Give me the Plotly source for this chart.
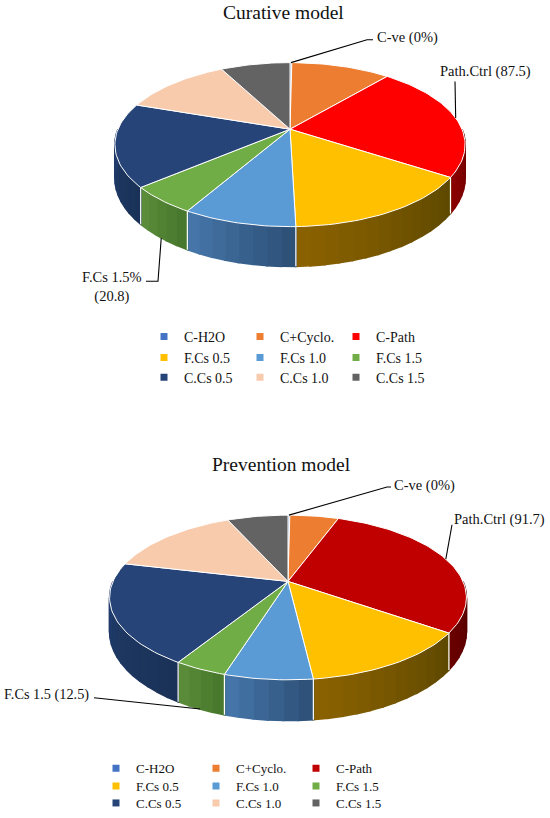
import numpy as np
import plotly.graph_objects as go

# data
categories = ["C-H2O", "C+Cyclo.", "C-Path", "F.Cs 0.5", "F.Cs 1.0",
              "F.Cs 1.5", "C.Cs 0.5", "C.Cs 1.0", "C.Cs 1.5"]
curative = [0, 41.7, 87.5, 58.3, 33.3, 20.8, 62.5, 45.8, 29.2]
prevention = [0, 16.7, 91.7, 41.7, 20.8, 12.5, 62.5, 45.8, 20.8]
titles = ["Curative model", "Prevention model"]
curative_labels = ["C-ve (0%)", "Path.Ctrl (87.5)", "F.Cs 1.5%<br>(20.8)"]
prevention_labels = ["C-ve (0%)", "Path.Ctrl (91.7)", "F.Cs 1.5 (12.5)"]
called_out = [0, 2, 5]  # slices that carry a callout label

W, H = 550, 818
FONT = "Liberation Serif"

top_cur = ["#4472C4", "#ED7D31", "#FF0000", "#FFC000", "#5B9BD5",
           "#70AD47", "#264478", "#F8CBAD", "#636363"]
top_prev = list(top_cur)
top_prev[2] = "#C00000"
# wall shades (light = left end, dark = right end of each slice)
side_cur = [("#30559a", "#223f70"), ("#a9561f", "#7a3d14"), ("#8c0000", "#640000"),
            ("#8c6200", "#5c4800"), ("#4778ad", "#2c4e74"), ("#5c8e3b", "#46762b"),
            ("#213d6e", "#1a3257"), ("#c29f88", "#9c7f6c"), ("#4d4d4d", "#3a3a3a")]
side_prev = list(side_cur)
side_prev[2] = ("#6b0000", "#4a0000")

charts = [
    dict(vals=curative, labels=curative_labels, tops=top_cur, sides=side_cur,
         cx=290, cy=130, A=172, B=79.6, k=0.188, D=32.5,
         title_y=13, leg_y=[339, 360, 380], leg_x=144, leg_w=51, leg_font=14,
         lab=[dict(x=375, y=38, xa="left", s=14.5), dict(x=485, y=72, xa="center", s=14.5),
              dict(x=112, y=289, xa="center", s=14.5)],
         lead=[[(367, 40), (373, 40)], [(455, 82)], [(158, 283), (146, 283)]],
         lead_mode=["top", "top", "bottom"]),
    dict(vals=prevention, labels=prevention_labels, tops=top_prev, sides=side_prev,
         cx=288, cy=585, A=175, B=79.7, k=0.195, D=33,
         title_y=467, leg_y=[773, 791, 808], leg_x=96, leg_w=55, leg_font=13,
         lab=[dict(x=392, y=488, xa="left", s=14.5), dict(x=547, y=523, xa="right", s=14.5),
              dict(x=91, y=699, xa="right", s=14.3)],
         lead=[[(387, 490), (391, 490)], [(452, 528)], [(99, 702), (94, 702)]],
         lead_mode=["top", "top", "bottom"]),
]


def mix(c1, c2, f):
    a = np.array([int(c1[i:i + 2], 16) for i in (1, 3, 5)], float)
    b = np.array([int(c2[i:i + 2], 16) for i in (1, 3, 5)], float)
    r = a + (b - a) * f
    return "rgb(%d,%d,%d)" % tuple(np.round(r))


def proj(p, th):
    u, v = np.sin(th), -np.cos(th)
    s = 1 - p["k"] * v
    return p["cx"] + p["A"] * u / s, p["cy"] + p["B"] * v / s


def drop(p, th):
    return p["D"] / (1 + p["k"] * np.cos(th))


def arc(t0, t1):
    n = max(2, int(abs(t1 - t0) / 1.5) + 2)
    return np.radians(np.linspace(t0, t1, n))


fig = go.Figure()
leg_ids = ["legend", "legend2", "legend3", "legend4", "legend5", "legend6"]

for c, p in enumerate(charts):
    vals = np.array(p["vals"], float)
    shown = np.maximum(vals, vals.sum() * 0.002)  # zero slice still drawn as a sliver
    edges = np.concatenate([[0], np.cumsum(shown) / shown.sum() * 360])

    # side walls on the front half, shaded left to right
    for i in range(len(categories)):
        a, b = max(edges[i], 90), min(edges[i + 1], 270)
        if a >= b:
            continue
        n = max(1, int(np.ceil((b - a) / 4)))
        cuts = np.linspace(a, b, n + 1)
        light, dark = p["sides"][i]
        for j in range(n):
            th = arc(cuts[j], cuts[j + 1])
            x, y = proj(p, th)
            yb = y + drop(p, th)
            col = mix(dark, light, (j + 0.5) / n)
            fig.add_trace(go.Scatter(
                x=list(x) + list(x[::-1]) + [x[0]],
                y=list(y) + list(yb[::-1]) + [y[0]],
                fill="toself", fillcolor=col, mode="lines",
                line=dict(color=col, width=1.6), hoverinfo="skip", showlegend=False))

    # white seams on the walls
    sx, sy = [], []
    for e in edges[1:-1]:
        if 90 < e < 270:
            th = np.radians(e)
            x, y = proj(p, th)
            sx += [x, x, None]
            sy += [y, y + drop(p, th), None]
    fig.add_trace(go.Scatter(x=sx, y=sy, mode="lines", line=dict(color="white", width=1.2),
                             hoverinfo="skip", showlegend=False))

    # top faces
    for i, name in enumerate(categories):
        th = arc(edges[i], edges[i + 1])
        x, y = proj(p, th)
        fig.add_trace(go.Scatter(
            x=[p["cx"]] + list(x) + [p["cx"]], y=[p["cy"]] + list(y) + [p["cy"]],
            fill="toself", fillcolor=p["tops"][i], mode="lines",
            line=dict(color="white", width=1), name=name,
            hovertext="%s: %s" % (name, p["vals"][i]), hoverinfo="text", showlegend=False))

    # callouts with leader lines
    for n_lab, i in enumerate(called_out):
        mid = np.radians((edges[i] + edges[i + 1]) / 2)
        x0, y0 = proj(p, mid)
        if p["lead_mode"][n_lab] == "bottom":
            y0 = y0 + drop(p, mid)
        pts = [(x0, y0)] + p["lead"][n_lab]
        fig.add_trace(go.Scatter(x=[q[0] for q in pts], y=[q[1] for q in pts], mode="lines",
                                 line=dict(color="black", width=1.1), hoverinfo="skip",
                                 showlegend=False))
        lb = p["lab"][n_lab]
        fig.add_annotation(x=lb["x"], y=lb["y"], text=p["labels"][n_lab], showarrow=False,
                           xanchor=lb["xa"], yanchor="middle", align="center",
                           font=dict(family=FONT, size=lb["s"], color="#111"))

    fig.add_annotation(x=p["cx"] - 7, y=p["title_y"], text=titles[c], showarrow=False,
                       xanchor="center", yanchor="middle",
                       font=dict(family=FONT, size=19.5, color="#111"))

    # legends, one per row of three
    for i, name in enumerate(categories):
        fig.add_trace(go.Scatter(x=[None], y=[None], mode="markers", name=name,
                                 marker=dict(symbol="square", size=7, color=p["tops"][i]),
                                 legend=leg_ids[c * 3 + i // 3]))
    for r in range(3):
        fig.update_layout({leg_ids[c * 3 + r]: dict(
            orientation="h", x=p["leg_x"] / W, xanchor="left",
            y=1 - p["leg_y"][r] / H, yanchor="middle",
            entrywidth=p["leg_w"], entrywidthmode="pixels",
            bgcolor="rgba(0,0,0,0)", borderwidth=0, tracegroupgap=0,
            font=dict(family=FONT, size=p["leg_font"], color="#111"))})

fig.update_layout(
    width=W, height=H, margin=dict(l=0, r=0, t=0, b=0),
    paper_bgcolor="white", plot_bgcolor="white",
    xaxis=dict(range=[0, W], visible=False, fixedrange=True),
    yaxis=dict(range=[H, 0], visible=False, fixedrange=True),
    showlegend=True,
)

# drop the browser's default page margin so the figure sits at the window corner
fig.write_html("out.html", config={"displayModeBar": False},
               post_script="document.body.style.margin='0';")
